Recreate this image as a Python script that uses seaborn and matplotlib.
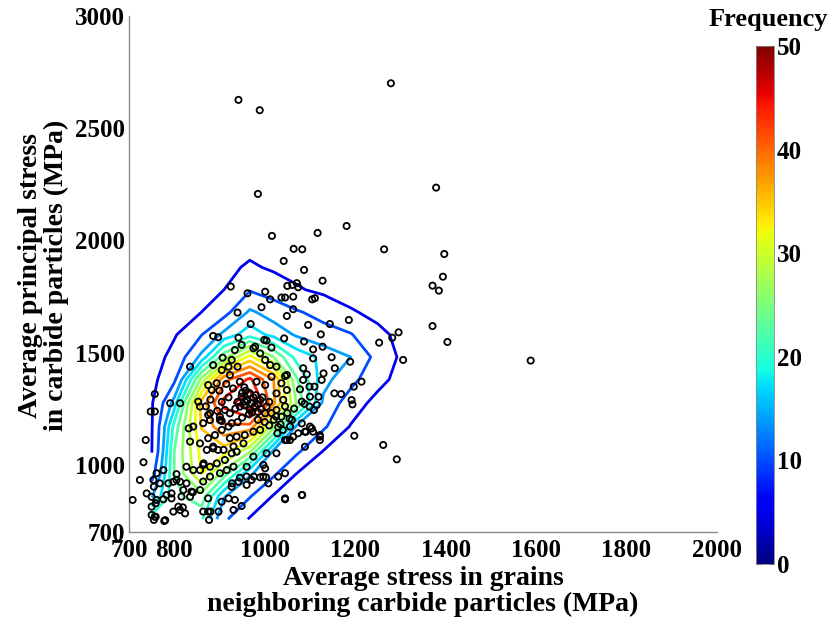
import numpy as np
import matplotlib
matplotlib.use("Agg")
import matplotlib.pyplot as plt
from matplotlib import cm, colors
import seaborn as sns

sns.set_style("white")
plt.rcParams["font.family"] = ["Liberation Serif", "DejaVu Serif"]
plt.rcParams["font.weight"] = "bold"
plt.rcParams["text.color"] = "black"
plt.rcParams["axes.labelcolor"] = "black"
plt.rcParams["xtick.color"] = "black"
plt.rcParams["ytick.color"] = "black"

# Frequency grid (counts per cell) used for the contour map
grid_x = [750, 800, 860, 910, 967, 1020, 1070, 1130, 1190, 1250, 1310, 1370]
grid_y = [757, 860, 960, 1060, 1170, 1275, 1380, 1480, 1580, 1680, 1780, 1880, 1990]
freq = [
    [21.5, 22.0, 20.5, 11.0, 4.5, 1.5, 0.5, 0.0, 0.0, 0.0, 0.0, 0.0],
    [13.6, 22.0, 25.0, 14.3, 10.4, 4.6, 2.0, 0.5, 0.0, 0.0, 0.0, 0.0],
    [8.1, 23.0, 32.0, 24.5, 14.5, 10.8, 5.0, 2.0, 0.5, 0.0, 0.0, 0.0],
    [4.8, 23.0, 33.0, 33.5, 26.5, 13.3, 11.0, 4.8, 1.5, 0.5, 0.0, 0.0],
    [4.6, 21.0, 35.2, 40.5, 40.0, 27.0, 13.6, 10.8, 4.7, 1.5, 0.5, 0.0],
    [4.5, 15.5, 36.0, 45.0, 50.0, 38.6, 26.0, 13.2, 7.8, 3.2, 1.0, 0.5],
    [3.5, 9.1, 26.8, 40.0, 44.6, 38.0, 23.5, 15.2, 11.4, 6.8, 2.5, 0.5],
    [2.5, 6.7, 15.0, 24.8, 33.0, 26.0, 18.9, 16.2, 14.0, 8.6, 3.5, 1.0],
    [2.5, 4.5, 9.8, 15.0, 18.7, 16.0, 13.6, 11.8, 10.3, 6.4, 3.2, 1.0],
    [2.0, 3.5, 5.0, 8.5, 14.6, 12.4, 10.5, 8.4, 5.6, 3.5, 1.5, 0.5],
    [1.0, 2.0, 3.5, 5.0, 9.7, 8.0, 5.5, 4.0, 2.5, 1.0, 0.5, 0.0],
    [0.5, 1.0, 2.5, 3.5, 5.8, 4.2, 3.5, 2.5, 1.5, 0.5, 0.0, 0.0],
    [0.0, 0.5, 1.0, 2.0, 3.0, 2.5, 2.0, 1.0, 0.5, 0.0, 0.0, 0.0],
]
levels = [5, 10, 14, 17, 20, 23, 26, 29, 32, 35, 38, 41, 44, 47]

# Per-particle stresses (MPa)
grain_stress = [
    942, 989, 1279, 985, 1016, 1181, 1117, 1064, 1083, 1264, 1042, 1087, 1128, 1379, 1397,
    1394, 1371, 1385, 1371, 1404, 1306, 1588, 1296, 1282, 1253,
    1050, 1061, 1071, 1074, 925, 1001, 962, 1037, 1045, 1063, 1105, 1111, 1012, 993, 940,
    1063, 1049, 1186, 1096, 1124, 1144, 969, 886, 897, 942, 1043, 1087, 999, 1004, 1015,
    979, 907, 927, 940, 1128, 1107, 1148, 1189, 1214, 1197, 1155, 1126, 1130, 1107, 1085,
    1093, 1045, 1049, 1110, 1119, 1085, 1154, 1169, 1192, 1194, 1099, 1078, 1100, 1099, 1109,
    1115, 1082, 1088, 1100, 1082, 1089, 1107, 1056, 1074, 1056, 1028, 1045, 1122, 1262, 1292,
    1083, 1045, 990, 1003, 1008, 971, 960, 945, 927, 920, 934, 905, 875, 880, 864,
    824, 780, 757, 794, 809, 816, 820, 838, 857, 787, 805, 768, 761, 776, 754,
    827, 842, 864, 879, 894, 912, 927, 938, 897, 886, 872, 857, 835, 875, 890,
    905, 923, 938, 956, 975, 990, 832, 791, 813, 757, 835, 886, 905, 923, 920,
    875, 883, 894, 934, 949, 975, 990, 1001, 1012, 1026, 1015, 1037, 1049, 982, 1001,
    879, 901, 879, 912, 923, 927, 920, 945, 956, 967, 967, 949, 990, 1004, 1001,
    1026, 1037, 1026, 1041, 864, 853, 857,
    732, 708, 724, 739, 750, 755, 750, 759, 761, 776, 750, 755, 759, 778, 783,
    794, 798, 805, 813, 827, 798, 813, 819, 835, 841, 865, 875, 877, 898, 931,
    949, 928, 942, 960, 976, 997, 1001, 1030, 1045, 1045, 1082, 737, 748, 757, 1122,
    1198, 1089, 1104, 1091, 1122, 1063, 1049, 1026, 1004,
    842, 875, 901, 886, 909, 931, 953, 975, 997, 960, 931, 916, 901, 879, 864, 857,
    960, 975, 985, 955, 970, 980, 950, 995, 940, 935, 965, 950, 985, 1010, 1015,
    930, 955, 945, 920, 905, 900, 915, 1020, 1035, 1000, 985, 1050, 1060, 1045, 1065,
    940, 905, 895, 870, 880, 962, 978, 992, 1030, 1040, 1055, 1010, 1025, 958, 972,
]
carbide_stress = [
    2626, 2580, 2700, 2207, 2020, 2064, 2033, 1962, 1960, 1960, 1908, 1868, 1820, 2235, 1939,
    1838, 1798, 1776, 1618, 1547, 1467, 1464, 1590, 1566, 1544,
    1797, 1801, 1809, 1791, 1794, 1771, 1764, 1745, 1745, 1749, 1737, 1742, 1737, 1702, 1678,
    1693, 1663, 1645, 1623, 1581, 1627, 1627, 1574, 1568, 1566, 1563, 1549, 1556, 1553, 1522,
    1526, 1477, 1467, 1437, 1526, 1514, 1479, 1459, 1370, 1348, 1430, 1378, 1407, 1474, 1430,
    1403, 1395, 1400, 1348, 1303, 1378, 1318, 1315, 1288, 1269, 1348, 1336, 1303, 1259, 1244,
    1266, 1281, 1271, 1170, 1184, 1147, 1147, 1170, 1140, 1110, 1140, 1110, 1125, 1088, 1024,
    865, 850, 944, 944, 917, 932, 910, 942, 902, 850, 843, 835, 850, 791, 791,
    783, 753, 768, 850, 813, 858, 887, 880, 887, 917, 932, 917, 962, 976, 932,
    991, 976, 999, 991, 1006, 1021, 1051, 1058, 1066, 1073, 1066, 1095, 1103, 1118, 1132,
    1155, 1118, 1125, 1132, 1147, 1155, 1162, 1274, 1274, 1237, 1437, 1444, 1422, 1400, 1437,
    1355, 1333, 1363, 1511, 1534, 1519, 1496, 1467, 1444, 1437, 1392, 1363, 1333, 1370, 1355,
    1229, 1214, 1199, 1244, 1229, 1185, 1170, 1259, 1281, 1244, 1318, 1303, 1289, 1259, 1229,
    1244, 1214, 1318, 1289, 1185, 1281, 1259,
    1011, 843, 932, 872, 857, 902, 813, 828, 843, 846, 776, 754, 768, 749, 865,
    872, 924, 958, 924, 917, 791, 798, 810, 857, 877, 1006, 791, 754, 791, 798,
    816, 917, 924, 947, 947, 947, 984, 947, 962, 846, 865, 1110, 1237, 1315, 1132,
    1129, 1080, 1162, 1147, 1110, 1125, 1110, 1051, 1051,
    1170, 1222, 1199, 1081, 1066, 1081, 1095, 1036, 999, 991, 991, 976, 962, 947, 925, 976,
    1290, 1300, 1270, 1265, 1275, 1310, 1320, 1300, 1280, 1250, 1225, 1210, 1235, 1280, 1230,
    1340, 1345, 1370, 1300, 1280, 1330, 1360, 1200, 1180, 1190, 1200, 1230, 1200, 1260, 1250,
    1190, 1195, 1240, 1260, 1290, 1285, 1262, 1248, 1168, 1155, 1205, 1175, 1215, 1330, 1232,
]

fig = plt.figure(figsize=(8.35, 6.24), dpi=100)
ax = fig.add_axes([0.1545, 0.1474, 0.7042, 0.827])
cax = fig.add_axes([0.9054, 0.0962, 0.0216, 0.830])

norm = colors.Normalize(vmin=0, vmax=50)
ax.contour(grid_x, grid_y, np.array(freq), levels=levels, cmap="jet",
           norm=norm, linewidths=2.0, zorder=2)

sns.scatterplot(x=grain_stress, y=carbide_stress, ax=ax, marker="o", s=20,
                facecolor="none", edgecolor="black", linewidth=1.3,
                zorder=3, legend=False)

ax.set_xlim(700, 2000)
ax.set_ylim(700, 3000)
ax.set_xticks([700, 800, 1000, 1200, 1400, 1600, 1800, 2000])
ax.set_yticks([700, 1000, 1500, 2000, 2500, 3000])
ax.set_xlabel("")
ax.set_ylabel("")
for side in ("top", "right"):
    ax.spines[side].set_visible(False)
for side in ("left", "bottom"):
    ax.spines[side].set_color("#8a8a8a")
    ax.spines[side].set_linewidth(1.0)
ax.tick_params(axis="both", direction="in", length=4, width=1,
               color="#8a8a8a", labelcolor="black", labelsize=18)
ax.tick_params(axis="y", pad=3)
ax.tick_params(axis="x", pad=5)

fig.text(0.052, 0.558, "Average principal stress\nin carbide particles (MPa)",
         rotation=90, ha="center", va="center", fontsize=20,
         fontweight="bold", linespacing=1.05, color="black")
fig.text(0.5066, 0.052, "Average stress in grains\nneighboring carbide particles (MPa)",
         ha="center", va="center", fontsize=20, fontweight="bold",
         linespacing=1.05, color="black")

cb = fig.colorbar(cm.ScalarMappable(norm=norm, cmap="jet"), cax=cax,
                  ticks=[0, 10, 20, 30, 40, 50])
cb.outline.set_linewidth(0.6)
cb.outline.set_edgecolor("#888888")
cax.tick_params(axis="y", direction="in", length=4, left=True, right=True,
                color="#444444", labelcolor="black", labelsize=18, pad=2)
fig.text(0.92, 0.968, "Frequency", ha="center", va="center",
         fontsize=19, fontweight="bold", color="black")

fig.savefig("out.png", dpi=100)
